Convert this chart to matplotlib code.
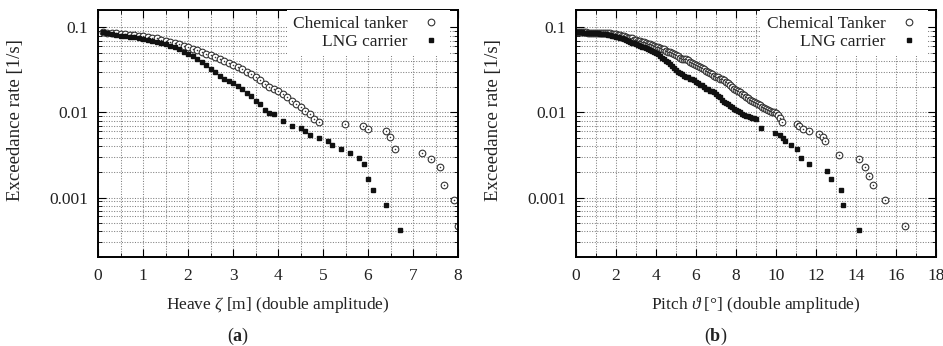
import numpy as np
import matplotlib
matplotlib.use('Agg')
import matplotlib.pyplot as plt
from matplotlib.ticker import MultipleLocator, LogLocator, NullFormatter, FixedLocator

plt.rcParams['font.family'] = ['Liberation Serif', 'DejaVu Serif']
plt.rcParams['mathtext.fontset'] = 'custom'
plt.rcParams['mathtext.rm'] = 'Liberation Serif'
plt.rcParams['mathtext.it'] = 'Liberation Serif:italic'
plt.rcParams['mathtext.bf'] = 'Liberation Serif:bold'

# ---- (a) heave ----
heave_chem_x = [0.1, 0.2, 0.3, 0.4, 0.5, 0.6, 0.7, 0.8, 0.9, 1.0,
                1.1, 1.2, 1.3, 1.4, 1.5, 1.6, 1.7, 1.8, 1.9, 2.0,
                2.1, 2.2, 2.3, 2.4, 2.5, 2.6, 2.7, 2.8, 2.9, 3.0,
                3.1, 3.2, 3.3, 3.4, 3.5, 3.6, 3.7, 3.8, 3.9, 4.0,
                4.1, 4.2, 4.3, 4.4, 4.5, 4.6, 4.7, 4.8, 4.9,
                5.49, 5.88, 5.99, 6.40, 6.49, 6.60, 7.19, 7.39, 7.60, 7.69, 7.90, 7.99]
heave_chem_y = [0.088, 0.087, 0.086, 0.085, 0.084, 0.083, 0.082, 0.081, 0.080, 0.079,
                0.077, 0.076, 0.074, 0.072, 0.070, 0.068, 0.066, 0.063, 0.060, 0.058,
                0.056, 0.054, 0.052, 0.049, 0.047, 0.045, 0.042, 0.040, 0.038, 0.036,
                0.034, 0.032, 0.030, 0.028, 0.026, 0.024, 0.0215, 0.020, 0.019, 0.0178,
                0.0163, 0.0150, 0.0138, 0.0127, 0.0115, 0.0105, 0.0095, 0.0083, 0.0077,
                0.0074, 0.0070, 0.0064, 0.0060, 0.0051, 0.0037, 0.0033, 0.0028, 0.0023, 0.0014, 0.00093, 0.00046]

heave_lng_x = [0.1, 0.2, 0.3, 0.4, 0.5, 0.6, 0.7, 0.8, 0.9, 1.0,
               1.1, 1.2, 1.3, 1.4, 1.5, 1.6, 1.7, 1.8, 1.9, 2.0,
               2.1, 2.2, 2.3, 2.4, 2.5, 2.6, 2.7, 2.8, 2.9, 3.0,
               3.1, 3.2, 3.3, 3.4, 3.5, 3.6, 3.7, 3.8, 3.9,
               4.1, 4.3, 4.5, 4.6, 4.7, 4.9, 5.1, 5.2, 5.4, 5.6, 5.8, 5.9,
               6.0, 6.1, 6.4, 6.7]
heave_lng_y = [0.088, 0.086, 0.084, 0.082, 0.080, 0.079, 0.078, 0.077, 0.075, 0.073,
               0.071, 0.069, 0.067, 0.065, 0.063, 0.061, 0.058, 0.055, 0.052, 0.049,
               0.046, 0.042, 0.039, 0.036, 0.032, 0.030, 0.027, 0.025, 0.0234, 0.0220,
               0.0207, 0.0187, 0.0168, 0.0157, 0.0137, 0.0126, 0.0107, 0.0098, 0.0095,
               0.0080, 0.0070, 0.0065, 0.0061, 0.0055, 0.0050, 0.0046, 0.0041, 0.0037, 0.0033, 0.0029, 0.0025,
               0.00166, 0.00123, 0.00082, 0.00042]

# ---- (b) pitch ----
pitch_chem_x = [round(0.1*i, 1) for i in range(104)] + \
               [11.07, 11.17, 11.37, 11.67, 12.17, 12.37, 12.47, 13.17,
                14.17, 14.47, 14.67, 14.88, 15.47, 16.47]
pitch_chem_y = [0.089, 0.089, 0.088, 0.088, 0.088, 0.088, 0.087, 0.087, 0.087, 0.087,
                0.087, 0.087, 0.086, 0.086, 0.086, 0.085, 0.085, 0.085, 0.084, 0.084,
                0.083, 0.082, 0.081, 0.080, 0.079, 0.078, 0.076, 0.075, 0.074, 0.072,
                0.071, 0.070, 0.069, 0.068, 0.067, 0.066, 0.064, 0.063, 0.062, 0.060,
                0.059, 0.058, 0.057, 0.056, 0.055, 0.053, 0.052, 0.051, 0.050, 0.048,
                0.047, 0.046, 0.044, 0.043, 0.042, 0.042, 0.041, 0.039, 0.038, 0.037,
                0.036, 0.035, 0.034, 0.033, 0.032, 0.031, 0.030, 0.029, 0.028, 0.027,
                0.026, 0.026, 0.025, 0.025, 0.024, 0.023, 0.022, 0.021, 0.020, 0.019,
                0.0184, 0.0178, 0.0172, 0.0166, 0.0160, 0.0153, 0.0147, 0.0141, 0.0136, 0.0132,
                0.0129, 0.0125, 0.0121, 0.0117, 0.0113, 0.0110, 0.0107, 0.0104, 0.0102, 0.0100,
                0.0098, 0.0093, 0.0085, 0.0078,
                0.0073, 0.0070, 0.0064, 0.0060, 0.0056, 0.0051, 0.0046, 0.0032,
                0.0028, 0.0023, 0.0018, 0.0014, 0.00093, 0.00046]

pitch_lng_x = [round(0.1*i, 1) for i in range(91)] + \
              [9.28, 9.97, 10.23, 10.37, 10.45, 10.75, 11.07, 11.27, 11.67,
               12.57, 12.77, 13.27, 13.37, 14.17]
pitch_lng_y = [0.089, 0.089, 0.088, 0.088, 0.087, 0.087, 0.087, 0.086, 0.086, 0.086,
               0.085, 0.085, 0.084, 0.084, 0.083, 0.083, 0.082, 0.081, 0.080, 0.079,
               0.078, 0.077, 0.076, 0.074, 0.073, 0.071, 0.070, 0.068, 0.066, 0.065,
               0.063, 0.062, 0.060, 0.059, 0.058, 0.057, 0.056, 0.054, 0.053, 0.051,
               0.0495, 0.048, 0.046, 0.044, 0.042, 0.040, 0.039, 0.037, 0.035, 0.033,
               0.0316, 0.030, 0.029, 0.028, 0.027, 0.026, 0.026, 0.025, 0.025, 0.024,
               0.023, 0.022, 0.021, 0.021, 0.020, 0.019, 0.019, 0.018, 0.018, 0.0175,
               0.0165, 0.0158, 0.0150, 0.0140, 0.0134, 0.0130, 0.0125, 0.0120, 0.0115, 0.0110,
               0.0107, 0.0104, 0.0100, 0.0097, 0.0094, 0.0092, 0.0090, 0.0089, 0.0087, 0.0086,
               0.0084,
               0.0066, 0.0057, 0.0054, 0.0050, 0.0046, 0.0041, 0.0037, 0.0029, 0.0025,
               0.00205, 0.00166, 0.00123, 0.00082, 0.00042]

fs = 12.5
txt = '#222222'

fig = plt.figure(figsize=(9.43, 3.46), dpi=100)
ax1 = fig.add_axes([98/943, 89/346, 360/943, 247/346])
ax2 = fig.add_axes([576/943, 89/346, 359.7/943, 247/346])


def style(ax, xmax, major, minor, xlabel, chem_label, cx, cy, lx, ly):
    ax.set_yscale('log')
    ax.set_xlim(0, xmax)
    ax.set_ylim(2.0e-4, 0.16)
    ax.grid(True, which='both', color='#808080', linestyle=(0, (1, 1.5)), linewidth=0.75)
    ax.set_axisbelow(True)
    ax.xaxis.set_major_locator(MultipleLocator(major))
    ax.xaxis.set_minor_locator(MultipleLocator(minor))
    ax.yaxis.set_major_locator(FixedLocator([0.001, 0.01, 0.1]))
    ax.yaxis.set_minor_locator(LogLocator(base=10, subs=np.arange(2, 10)))
    ax.yaxis.set_minor_formatter(NullFormatter())
    ax.set_yticklabels(['0.001', '0.01', '0.1'])
    ax.tick_params(which='both', direction='in', top=True, right=True,
                   labelsize=fs, colors='black', labelcolor=txt)
    ax.tick_params(axis='y', pad=7)
    ax.tick_params(axis='x', pad=8)
    ax.tick_params(which='major', length=6, width=0.8)
    ax.tick_params(which='minor', length=3, width=0.6)
    for s in ax.spines.values():
        s.set_linewidth(1.4)
    ax.plot(cx, cy, linestyle='none', marker='o', markersize=4.8,
            markerfacecolor='white', markeredgecolor='#333333', markeredgewidth=0.8,
            label=chem_label)
    ax.plot(cx, cy, linestyle='none', marker='o', markersize=1.1,
            markerfacecolor='#333333', markeredgecolor='none')
    ax.plot(lx, ly, linestyle='none', marker='s', markersize=3.5,
            color='#111111', label='LNG carrier')
    h, l = ax.get_legend_handles_labels()
    leg = ax.legend(h, l, loc='upper right', bbox_to_anchor=(0.978, 1.0),
                    markerfirst=False, fontsize=fs,
                    handlelength=1.5, handletextpad=0.6, borderaxespad=0.0,
                    borderpad=0.35, labelspacing=0.1, frameon=True, fancybox=False)
    leg.get_frame().set_facecolor('white')
    leg.get_frame().set_edgecolor('none')
    leg.get_frame().set_alpha(1.0)
    for t in leg.get_texts():
        t.set_color(txt)
    ax.set_xlabel(xlabel, fontsize=fs, color=txt, labelpad=8)
    ax.set_ylabel('Exceedance rate [1/s]', fontsize=13.5, color=txt)
    ax.yaxis.set_label_coords(-0.205, 0.555)


style(ax1, 8, 1, 0.5, r'Heave $\zeta$ [m] (double amplitude)', 'Chemical tanker',
      heave_chem_x, heave_chem_y, heave_lng_x, heave_lng_y)
style(ax2, 18, 2, 1, r'Pitch $\vartheta$ [°] (double amplitude)', 'Chemical Tanker',
      pitch_chem_x, pitch_chem_y, pitch_lng_x, pitch_lng_y)

fig.text(238/943, 1 - 336/346, r'($\mathbf{a}$)', ha='center', va='center', fontsize=13, color=txt)
fig.text(716/943, 1 - 336/346, r'($\mathbf{b}$)', ha='center', va='center', fontsize=13, color=txt)

fig.savefig('out.png', dpi=100)
